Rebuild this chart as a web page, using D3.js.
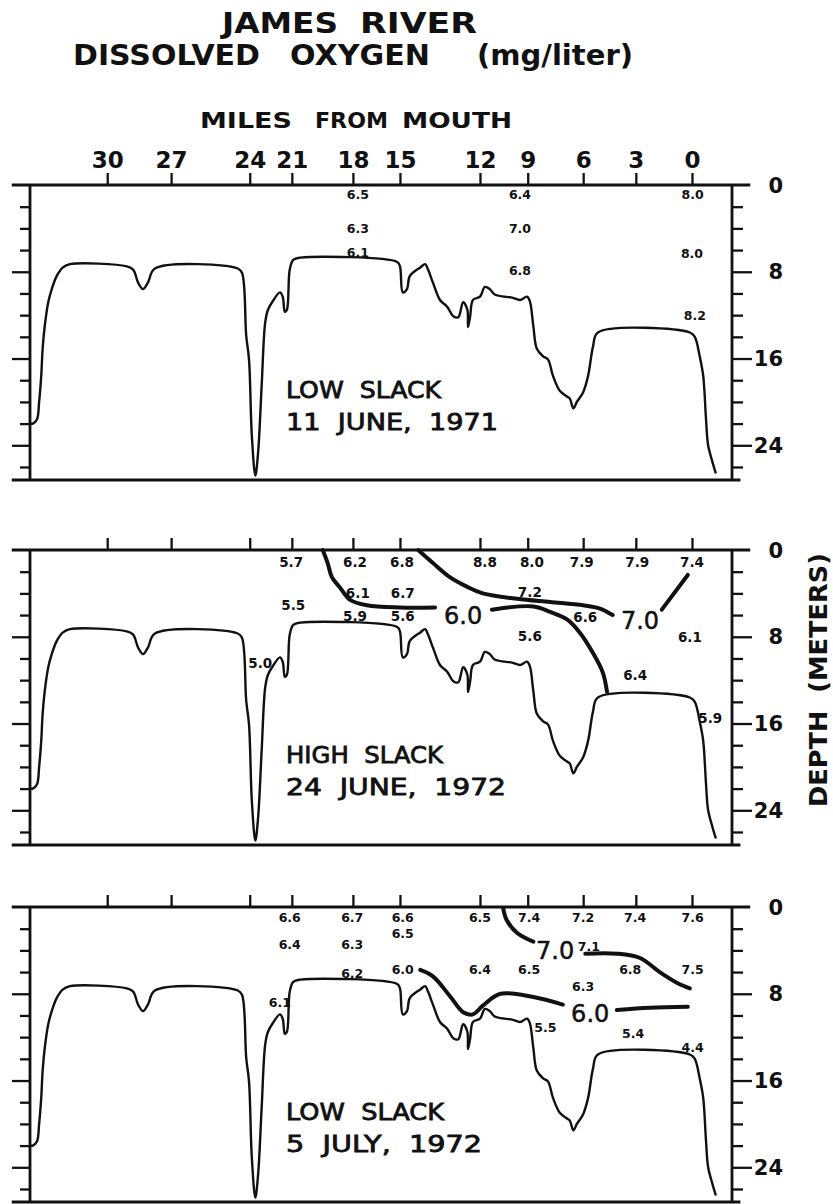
<!DOCTYPE html>
<html>
<head>
<meta charset="utf-8">
<title>James River - dissolved oxygen</title>
<script src="https://d3js.org/d3.v7.min.js"></script>
<style>
  body { margin: 0; background: #fff; }
  svg { display: block; }
  .frame { stroke: #111; stroke-width: 2.8; fill: none; }
  .tick line { stroke: #111; stroke-width: 2.3; }
  .bottom { fill: none; stroke: #111; stroke-width: 2.4; stroke-linejoin: round; }
  .contour { fill: none; stroke: #111; stroke-width: 4; stroke-linecap: round; stroke-linejoin: round; }
  .head { font-family: "DejaVu Sans", sans-serif; font-weight: bold; fill: #111; white-space: pre; }
  .mile text { font-family: "DejaVu Sans", sans-serif; font-weight: bold; font-size: 23px; fill: #111; }
  .dlab { font-family: "DejaVu Sans", sans-serif; font-weight: bold; font-size: 21px; fill: #111; text-anchor: end; }
  .survey { font-family: "DejaVu Sans", sans-serif; font-size: 23px; fill: #111; stroke: #111; stroke-width: 0.8px; white-space: pre; }
  .val { font-family: "DejaVu Sans", sans-serif; font-weight: bold; fill: #111; text-anchor: middle; }
  .clab { font-family: "DejaVu Sans", sans-serif; font-size: 24px; fill: #111; stroke: #111; stroke-width: 0.5px; text-anchor: middle; }
</style>
</head>
<body>
<script>
// horizontal axis is distance along the section (0 = upstream edge, 100 = downstream edge)
var mileTicks  = [30, 27, 24, 21, 18, 15, 12, 9, 6, 3, 0];
var mileTickAt = [11.0, 20.1, 31.3, 37.3, 46.0, 52.7, 64.1, 70.9, 78.8, 86.3, 94.3];

var depthTicks  = [2, 4, 6, 8, 10, 12, 14, 16, 18, 20, 22, 24, 26];
var depthLabels = [0, 8, 16, 24];

// channel bottom [section distance, depth m]
var bottomProfile = [
  [0, 22.0], [0.4, 22.0], [1.0, 21.6], [1.3, 20.0], [1.6, 17.6], [1.8, 15.1], [2.1, 13.0],
  [2.6, 10.8], [3.1, 9.6], [3.8, 8.4], [4.7, 7.6], [5.7, 7.3], [13.8, 7.5], [14.7, 7.8],
  [15.4, 9.0], [16.1, 9.6], [16.8, 9.0], [17.8, 7.7], [29.6, 7.7], [30.2, 8.1], [30.8, 13.9],
  [31.2, 16.1], [31.6, 23.1], [32.1, 26.8], [32.5, 24.6], [33.0, 18.5], [33.5, 12.7],
  [33.9, 11.5], [34.6, 10.7], [35.6, 9.9], [36.0, 10.3], [36.3, 11.7], [36.6, 11.5],
  [37.0, 7.8], [37.5, 6.9], [38.5, 6.7], [52.3, 7.1], [52.7, 7.5], [53.1, 9.9], [53.7, 9.6],
  [54.1, 8.4], [55.6, 7.6], [56.3, 7.3], [56.7, 7.8], [57.4, 9.0], [58.4, 10.6], [59.4, 11.2],
  [60.3, 12.1], [61.0, 12.2], [61.7, 10.8], [62.3, 11.5], [62.4, 13.1], [62.7, 12.1],
  [63.1, 10.6], [64.1, 10.3], [64.8, 9.4], [65.5, 9.6], [66.2, 10.1], [68.8, 10.4],
  [69.8, 10.6], [70.8, 10.3], [71.2, 10.7], [71.7, 13.0], [72.2, 15.1], [73.1, 15.8],
  [73.8, 16.1], [74.5, 17.6], [75.5, 19.0], [76.5, 19.5], [76.9, 19.7], [77.4, 20.6],
  [77.9, 20.0], [78.8, 19.1], [79.5, 17.6], [80.2, 14.9], [80.9, 13.6], [94.0, 13.6],
  [94.7, 14.0], [95.4, 15.8], [95.9, 17.6], [96.3, 21.6], [96.6, 24.0], [97.2, 25.5], [97.7, 26.6]
];

var surveyTide = ["LOW  SLACK", "HIGH  SLACK", "LOW  SLACK"];
var surveyDate = ["11  JUNE,  1971", "24  JUNE,  1972", "5  JULY,  1972"];

// DO readings [section distance, depth m, mg/l]
var readings1 = [
  [46.7, 0.9, "6.5"], [46.7, 4.0, "6.3"], [46.7, 6.2, "6.1"],
  [69.8, 0.9, "6.4"], [69.8, 4.0, "7.0"], [69.8, 7.9, "6.8"],
  [94.4, 0.9, "8.0"], [94.3, 6.3, "8.0"], [94.7, 12.0, "8.2"]
];
var readings2 = [
  [37.2, 1.1, "5.7"], [46.3, 1.1, "6.2"], [53.0, 1.1, "6.8"], [64.8, 1.1, "8.8"],
  [71.5, 1.1, "8.0"], [78.6, 1.1, "7.9"], [86.5, 1.1, "7.9"], [94.3, 1.1, "7.4"],
  [46.7, 4.0, "6.1"], [53.1, 4.0, "6.7"], [37.5, 5.1, "5.5"], [46.3, 6.1, "5.9"],
  [53.1, 6.1, "5.6"], [71.2, 3.9, "7.2"], [79.1, 6.2, "6.6"], [71.2, 7.9, "5.6"],
  [94.0, 8.0, "6.1"], [86.2, 11.5, "6.4"], [96.9, 15.5, "5.9"], [32.8, 10.4, "5.0"]
];
var readings3 = [
  [37.0, 1.0, "6.6"], [45.9, 1.0, "6.7"], [53.1, 1.0, "6.6"], [64.1, 1.0, "6.5"],
  [71.1, 1.0, "7.4"], [78.8, 1.0, "7.2"], [86.2, 1.0, "7.4"], [94.4, 1.0, "7.6"],
  [53.1, 2.4, "6.5"], [37.0, 3.5, "6.4"], [45.9, 3.5, "6.3"], [45.9, 6.1, "6.2"],
  [53.1, 5.8, "6.0"], [35.6, 8.8, "6.1"], [79.6, 3.6, "7.1"], [64.1, 5.8, "6.4"],
  [71.1, 5.8, "6.5"], [85.5, 5.8, "6.8"], [94.4, 5.8, "7.5"], [78.8, 7.3, "6.3"],
  [73.4, 11.1, "5.5"], [85.9, 11.7, "5.4"], [94.4, 13.0, "4.4"]
];

// isolines [section distance, depth m]
var contours2 = [
  [[41.7, 0], [42.4, 1.2], [43.0, 2.5], [44.2, 3.5], [45.6, 4.6], [48.0, 5.1], [52.7, 5.3], [57.7, 5.3]],
  [[65.8, 5.5], [71.7, 5.2], [74.1, 5.7], [76.5, 6.4], [78.3, 7.6], [80.2, 9.5], [81.6, 11.3], [82.2, 13.1]],
  [[55.3, 0], [57.4, 1.2], [59.8, 2.5], [62.3, 3.4], [64.5, 4.0], [69.4, 4.5], [74.1, 4.8], [78.8, 5.1], [81.2, 5.4], [83.0, 6.0]],
  [[90.0, 5.5], [93.7, 2.3]]
];
var contourLabels2 = [[61.7, 6.0, "6.0"], [86.9, 6.5, "7.0"]];

var contours3 = [
  [[67.4, 0.1], [67.9, 1.2], [69.4, 2.4], [71.7, 3.2]],
  [[79.1, 4.3], [83.6, 4.3], [86.9, 4.7], [89.7, 6.0], [92.2, 7.0], [94.0, 7.5]],
  [[55.6, 5.8], [57.4, 6.4], [59.8, 8.2], [61.7, 9.7], [63.1, 9.9], [64.5, 9.1], [67.0, 8.0], [71.7, 8.3], [75.9, 9.0]],
  [[83.6, 9.5], [88.3, 9.3], [93.7, 9.2]]
];
var contourLabels3 = [[74.8, 4.0, "7.0"], [79.8, 9.8, "6.0"]];

var width = 833, height = 1204;
var depthMax = 27.2, panelH = 295;
var panelTops = [185, 550, 907];

var svg = d3.select("body").append("svg")
    .attr("width", width)
    .attr("height", height);

var x = d3.scaleLinear().domain([0, 100]).range([30, 732]);

// titles (each word stretched to its width in the original lettering)
function word(txt, x0, x1, base, size) {
  svg.append("text").attr("class", "head")
      .attr("x", x0).attr("y", base)
      .attr("font-size", size)
      .attr("textLength", x1 - x0).attr("lengthAdjust", "spacingAndGlyphs")
      .text(txt);
}
word("JAMES", 222, 338, 33, 29);
word("RIVER", 360, 477, 33, 29);
word("DISSOLVED", 73, 260, 65, 29);
word("OXYGEN", 290, 430, 65, 29);
word("(mg/liter)", 477, 633, 65, 29);
word("MILES", 200, 292, 128, 22);
word("FROM", 315, 388, 128, 22);
word("MOUTH", 402, 512, 128, 22);

svg.append("text").attr("class", "head")
    .attr("transform", "translate(827,680) rotate(-90)")
    .attr("text-anchor", "middle")
    .attr("font-size", 25)
    .attr("textLength", 254).attr("lengthAdjust", "spacingAndGlyphs")
    .text("DEPTH  (METERS)");

var line = d3.line()
    .x(function(d) { return x(d[0]); })
    .curve(d3.curveCatmullRom.alpha(0.5));

var readings = [readings1, readings2, readings3];
var contours = [[], contours2, contours3];
var contourLabels = [[], contourLabels2, contourLabels3];
var valSize = [12.5, 13.5, 12.5];
var surveyWidth = [[155, 212], [157, 220], [158, 196]];

panelTops.forEach(function(top, p) {
  var y = d3.scaleLinear().domain([0, depthMax]).range([top, top + panelH]);
  var g = svg.append("g");
  line.y(function(d) { return y(d[1]); });

  // bottom profile
  g.append("path").attr("class", "bottom").attr("d", line(bottomProfile));

  // frame
  g.append("line").attr("class", "frame")
      .attr("x1", x(-2.6)).attr("x2", x(102.6)).attr("y1", y(0)).attr("y2", y(0));
  g.append("line").attr("class", "frame")
      .attr("x1", x(-2.6)).attr("x2", x(101.2)).attr("y1", y(depthMax)).attr("y2", y(depthMax));
  g.append("line").attr("class", "frame")
      .attr("x1", x(0)).attr("x2", x(0)).attr("y1", y(0)).attr("y2", y(depthMax));
  g.append("line").attr("class", "frame")
      .attr("x1", x(100)).attr("x2", x(100)).attr("y1", y(0)).attr("y2", y(depthMax));

  // mile ticks
  var mAxis = g.append("g").attr("class", "mile")
      .attr("transform", "translate(0," + y(0) + ")")
      .call(d3.axisTop(x).tickValues(mileTickAt).tickSize(12).tickPadding(5)
        .tickFormat(function(d, i) { return p === 0 ? mileTicks[i] : ""; }));
  mAxis.select(".domain").remove();
  mAxis.selectAll("text").attr("font-family", null).attr("font-size", null);

  // depth ticks both sides
  var lAxis = g.append("g")
      .attr("transform", "translate(" + x(0) + ",0)")
      .call(d3.axisLeft(y).tickValues(depthTicks).tickSize(10).tickFormat(""));
  lAxis.select(".domain").remove();
  lAxis.selectAll(".tick line").attr("x2", function(d) { return depthLabels.indexOf(d) >= 0 ? -18 : -10; });

  var rAxis = g.append("g")
      .attr("transform", "translate(" + x(100) + ",0)")
      .call(d3.axisRight(y).tickValues(depthTicks).tickSize(11).tickFormat(""));
  rAxis.select(".domain").remove();
  rAxis.selectAll(".tick line").attr("x2", function(d) { return depthLabels.indexOf(d) >= 0 ? 20 : 11; });

  g.selectAll(".dlab").data(depthLabels).enter().append("text")
      .attr("class", "dlab")
      .attr("x", 783)
      .attr("y", function(d) { return y(d); })
      .attr("dy", "0.36em")
      .text(function(d) { return d; });

  // isolines
  g.selectAll(".contour").data(contours[p]).enter().append("path")
      .attr("class", "contour")
      .attr("d", line);

  g.selectAll(".clab").data(contourLabels[p]).enter().append("text")
      .attr("class", "clab")
      .attr("x", function(d) { return x(d[0]); })
      .attr("y", function(d) { return y(d[1]); })
      .attr("dy", "0.36em")
      .text(function(d) { return d[2]; });

  // DO readings
  g.selectAll(".val").data(readings[p]).enter().append("text")
      .attr("class", "val")
      .attr("font-size", valSize[p])
      .attr("x", function(d) { return x(d[0]); })
      .attr("y", function(d) { return y(d[1]); })
      .attr("dy", "0.36em")
      .text(function(d) { return d[2]; });

  // survey name
  g.append("text").attr("class", "survey")
      .attr("x", 286).attr("y", y(19.6))
      .attr("textLength", surveyWidth[p][0]).attr("lengthAdjust", "spacingAndGlyphs")
      .text(surveyTide[p]);
  g.append("text").attr("class", "survey")
      .attr("x", 286).attr("y", y(22.6))
      .attr("textLength", surveyWidth[p][1]).attr("lengthAdjust", "spacingAndGlyphs")
      .text(surveyDate[p]);
});
</script>
</body>
</html>
